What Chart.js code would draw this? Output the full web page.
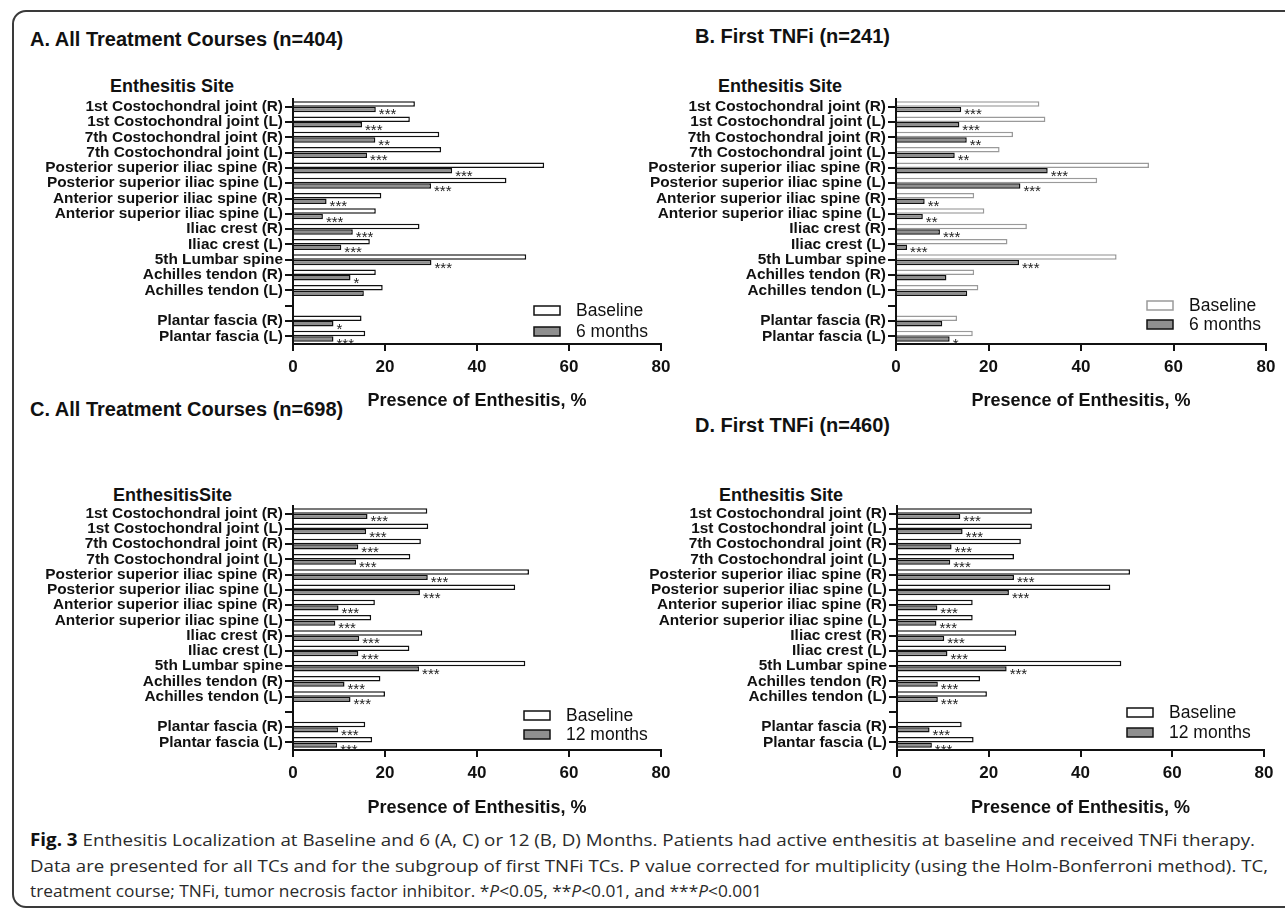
<!DOCTYPE html>
<html>
<head>
<meta charset="utf-8">
<title>Enthesitis localization</title>
<script src="https://cdn.jsdelivr.net/npm/chart.js@4.4.1/dist/chart.umd.min.js"></script>
<style>
  body { margin: 0; background: #fff; width: 1285px; height: 915px; overflow: hidden; position: relative;
         font-family: "Liberation Sans", Arial, sans-serif; }
  .frame { position: absolute; left: 12px; top: 10px; width: 1300px; height: 898px; box-sizing: border-box;
           border: 2px solid #3a3a3a; border-radius: 14px; }
  .title { position: absolute; font-weight: bold; font-size: 20px; line-height: 20px; white-space: nowrap; color: #111; }
  .site { position: absolute; font-weight: bold; font-size: 18px; line-height: 18px; white-space: nowrap; color: #111; }
  canvas { position: absolute; }
  .cap { position: absolute; left: 30px; font-family: "Open Sans", sans-serif; font-size: 17px;
         line-height: 20px; color: #2a2a2a; white-space: nowrap; transform-origin: 0 50%; }
  .cap b { color: #111; }
</style>
</head>
<body>
<div class="frame"></div>

<div class="title" style="left:30px;top:29px">A. All Treatment Courses (n=404)</div>
<div class="title" style="left:695px;top:26px">B. First TNFi (n=241)</div>
<div class="title" style="left:30px;top:399px">C. All Treatment Courses (n=698)</div>
<div class="title" style="left:695px;top:415px">D. First TNFi (n=460)</div>

<div class="site" style="left:110px;top:77px">Enthesitis Site</div>
<div class="site" style="left:718px;top:77px">Enthesitis Site</div>
<div class="site" style="left:113px;top:486px">EnthesitisSite</div>
<div class="site" style="left:719px;top:486px">Enthesitis Site</div>

<canvas id="chartA" width="666" height="333" style="left:15px;top:79px;width:666px;height:333px"></canvas>
<canvas id="chartB" width="667" height="333" style="left:618px;top:79px;width:667px;height:333px"></canvas>
<canvas id="chartC" width="666" height="333" style="left:15px;top:486px;width:666px;height:333px"></canvas>
<canvas id="chartD" width="667" height="333" style="left:618px;top:486px;width:667px;height:333px"></canvas>

<div class="cap" data-w="1225" style="top:830px"><b>Fig. 3</b> Enthesitis Localization at Baseline and 6 (A, C) or 12 (B, D) Months. Patients had active enthesitis at baseline and received TNFi therapy.</div>
<div class="cap" data-w="1238" style="top:856px">Data are presented for all TCs and for the subgroup of first TNFi TCs. P value corrected for multiplicity (using the Holm-Bonferroni method). TC,</div>
<div class="cap" data-w="732" style="top:881px">treatment course; TNFi, tumor necrosis factor inhibitor. *<i>P</i>&lt;0.05, **<i>P</i>&lt;0.01, and ***<i>P</i>&lt;0.001</div>

<script>
// categories (the empty one is the gap GraphPad leaves before plantar fascia)
const siteLabels = [
  '1st Costochondral joint (R)', '1st Costochondral joint (L)',
  '7th Costochondral joint (R)', '7th Costochondral joint (L)',
  'Posterior superior iliac spine (R)', 'Posterior superior iliac spine (L)',
  'Anterior superior iliac spine (R)', 'Anterior superior iliac spine (L)',
  'Iliac crest (R)', 'Iliac crest (L)', '5th Lumbar spine',
  'Achilles tendon (R)', 'Achilles tendon (L)', '',
  'Plantar fascia (R)', 'Plantar fascia (L)'
];
const xTicks = [0, 20, 40, 60, 80];

// A. all treatment courses, 6 months
const baselineA = [26.5, 25.4, 31.8, 32.2, 54.6, 46.4, 19.2, 18.0, 27.5, 16.7, 50.7, 18.0, 19.5, null, 14.9, 15.7];
const monthsA   = [18.0, 15.0, 17.9, 16.1, 34.6, 30.0, 7.3, 6.5, 13.0, 10.5, 30.1, 12.5, 15.4, null, 8.8, 8.8];
const starsA    = ['***', '***', '**', '***', '***', '***', '***', '***', '***', '***', '***', '*', '', '', '*', '***'];

// B. first TNFi, 6 months
const baselineB = [31.0, 32.3, 25.3, 22.4, 54.7, 43.5, 16.9, 19.1, 28.3, 24.1, 47.7, 16.9, 17.8, null, 13.2, 16.6];
const monthsB   = [14.1, 13.7, 15.3, 12.7, 32.8, 26.9, 6.2, 5.8, 9.5, 2.4, 26.6, 10.9, 15.4, null, 10.0, 11.6];
const starsB    = ['***', '***', '**', '**', '***', '***', '**', '**', '***', '***', '***', '', '', '', '', '*'];

// C. all treatment courses, 12 months
const baselineC = [29.2, 29.4, 27.8, 25.5, 51.3, 48.3, 17.8, 17.0, 28.1, 25.3, 50.5, 19.0, 20.0, null, 15.7, 17.2];
const monthsC   = [16.2, 15.9, 14.2, 13.7, 29.3, 27.6, 9.9, 9.2, 14.4, 14.2, 27.4, 11.2, 12.5, null, 9.8, 9.6];
const starsC    = ['***', '***', '***', '***', '***', '***', '***', '***', '***', '***', '***', '***', '***', '', '***', '***'];

// D. first TNFi, 12 months
const baselineD = [29.4, 29.4, 27.0, 25.5, 50.8, 46.5, 16.5, 16.5, 26.0, 23.8, 48.9, 18.1, 19.6, null, 14.1, 16.7];
const monthsD   = [13.8, 14.3, 11.9, 11.6, 25.5, 24.4, 8.8, 8.6, 10.3, 11.0, 23.9, 8.9, 8.9, null, 7.1, 7.6];
const starsD    = ['***', '***', '***', '***', '***', '***', '***', '***', '***', '***', '***', '***', '***', '', '***', '***'];

const FONT = '"Liberation Sans", Arial, sans-serif';
const GRAY = '#8f8f8f';
const INK = '#111';

Chart.defaults.font.family = FONT;
Chart.defaults.color = INK;

// significance marks next to the follow-up bars
const sigStars = {
  id: 'sigStars',
  afterDatasetsDraw(chart, args, opts) {
    const meta = chart.getDatasetMeta(1);
    const ctx = chart.ctx;
    ctx.save();
    ctx.font = '15px ' + FONT;
    ctx.fillStyle = '#222';
    ctx.textAlign = 'left';
    ctx.textBaseline = 'alphabetic';
    meta.data.forEach((bar, i) => {
      const mark = opts.marks[i];
      if (!mark) return;
      ctx.fillText(mark, bar.x + 3, bar.y + 10);
    });
    ctx.restore();
  }
};

// legend box inside the plot, bottom right like the Prism output
const boxLegend = {
  id: 'boxLegend',
  afterDraw(chart, args, opts) {
    const { ctx, chartArea } = chart;
    const x = chartArea.right - opts.fromRight;
    ctx.save();
    ctx.font = '17.5px ' + FONT;
    ctx.textBaseline = 'middle';
    chart.data.datasets.forEach((ds, i) => {
      const y = chartArea.bottom - opts.tops[i];
      ctx.fillStyle = ds.backgroundColor;
      ctx.fillRect(x, y, 26, 9);
      ctx.lineWidth = 1.5;
      ctx.strokeStyle = ds.borderColor;
      ctx.strokeRect(x, y, 26, 9);
      ctx.fillStyle = INK;
      ctx.fillText(ds.label, x + 42, y + 5);
    });
    ctx.restore();
  }
};

function makePanel(canvasId, baseline, followUp, stars, followLabel, baseBorder, box, legendPos) {
  const ctx = document.getElementById(canvasId).getContext('2d');
  return new Chart(ctx, {
    type: 'bar',
    data: {
      labels: siteLabels,
      datasets: [
        {
          label: 'Baseline',
          data: baseline,
          backgroundColor: '#ffffff',
          borderColor: baseBorder,
          borderWidth: 1.5,
        },
        {
          label: followLabel,
          data: followUp,
          backgroundColor: GRAY,
          borderColor: INK,
          borderWidth: 1.5,
        },
      ],
    },
    options: {
      indexAxis: 'y',
      responsive: false,
      animation: false,
      devicePixelRatio: 1,
      layout: { padding: { top: box.top, right: box.right, left: 0, bottom: 0 } },
      datasets: { bar: { categoryPercentage: 0.72, barPercentage: 1.0 } },
      plugins: {
        legend: { display: false },
        tooltip: { enabled: false },
        sigStars: { marks: stars },
        boxLegend: legendPos,
      },
      scales: {
        x: {
          min: 0,
          max: 80,
          afterBuildTicks: (scale) => { scale.ticks = xTicks.map((v) => ({ value: v })); },
          grid: { drawOnChartArea: false, drawTicks: true, tickLength: 7, lineWidth: 2, color: INK },
          border: { display: true, width: 2, color: INK },
          ticks: { padding: 6, font: { size: 17, weight: 'bold' }, color: INK },
          title: {
            display: true,
            text: 'Presence of Enthesitis, %',
            font: { size: 18, weight: 'bold' },
            color: INK,
            padding: { top: 0, bottom: 0 },
          },
          afterFit: (scale) => { scale.height = box.xHeight; },
        },
        y: {
          grid: { offset: false, drawOnChartArea: false, drawTicks: true, tickLength: 8, lineWidth: 2, color: INK },
          border: { display: true, width: 2, color: INK },
          ticks: { padding: 2, autoSkip: false, font: { size: 15.4, weight: 'bold' }, color: INK },
          afterFit: (scale) => { scale.width = box.yWidth; },
        },
      },
    },
    plugins: [sigStars, boxLegend],
  });
}

makePanel('chartA', baselineA, monthsA, starsA, '6 months', INK,
  { top: 20, right: 20, yWidth: 278, xHeight: 68 }, { fromRight: 127, tops: [38, 17] });
makePanel('chartB', baselineB, monthsB, starsB, '6 months', '#9a9a9a',
  { top: 20, right: 19, yWidth: 278, xHeight: 68 }, { fromRight: 119, tops: [43, 24] });
makePanel('chartC', baselineC, monthsC, starsC, '12 months', INK,
  { top: 20, right: 20, yWidth: 278, xHeight: 69 }, { fromRight: 137, tops: [39, 20] });
makePanel('chartD', baselineD, monthsD, starsD, '12 months', INK,
  { top: 20, right: 21, yWidth: 279, xHeight: 69 }, { fromRight: 137, tops: [42, 22] });

// squeeze the caption lines to the width they take in the figure
document.querySelectorAll('.cap').forEach((el) => {
  const target = Number(el.dataset.w);
  const w = el.getBoundingClientRect().width;
  if (w > 0) el.style.transform = 'scaleX(' + (target / w).toFixed(4) + ')';
});
</script>
</body>
</html>
